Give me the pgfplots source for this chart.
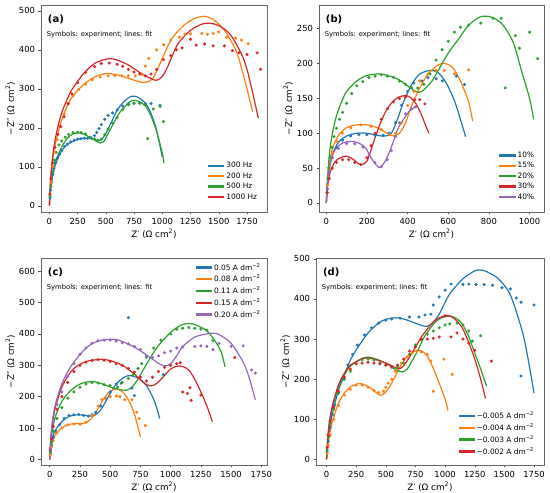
\documentclass[border=0pt]{standalone}
\usepackage{fontspec}
\setmainfont{DejaVu Sans}
\usepackage{pgfplots}
\pgfplotsset{compat=1.18}
\definecolor{c0}{HTML}{1F77B4}
\definecolor{c1}{HTML}{FF7F0E}
\definecolor{c2}{HTML}{2CA02C}
\definecolor{c3}{HTML}{D62728}
\definecolor{c4}{HTML}{9467BD}
\pgfplotsset{
  panel/.style={
    scale only axis, anchor=south west,
    axis line style={black!60, line width=0.6pt},
    tick align=outside, xtick pos=bottom, ytick pos=left,
    major tick length=2.5pt,
    tick style={black!70, line width=0.5pt},
    tick label style={font=\fontsize{8.4}{9}\selectfont},
    /pgf/number format/assume math mode=true,
    /pgf/number format/1000 sep={},
    label style={font=\fontsize{8.8}{10}\selectfont},
    xlabel={Z′ (Ω cm\textsuperscript{2})},
    ylabel={−Z″ (Ω cm\textsuperscript{2})},
    xlabel style={yshift=2pt},
    ylabel style={yshift=-3pt},
    legend cell align=left,
    legend style={draw=none, fill=none,
      font=\fontsize{7.4}{8}\selectfont, row sep=-0.6pt, inner sep=1pt},
    legend image code/.code={\fill[##1] (0pt,-0.55pt) rectangle (15pt,0.55pt);},
  },
  fitline/.style={line width=1.2pt, no marks, smooth, tension=0.5},
  expdot/.style={only marks, mark=*, mark size=1.35pt, forget plot},
}
\newcommand{\paneltext}[1]{%
  \node[anchor=north west, font=\bfseries\fontsize{10}{11}\selectfont, inner sep=0pt] at (rel axis cs:0.03,0.955) {(#1)};
  \node[anchor=north west, font=\fontsize{6.8}{7}\selectfont, inner sep=0pt] at (rel axis cs:0.025,0.875) {Symbols: experiment; lines: fit};
}
\begin{document}
\begin{tikzpicture}
\path[use as bounding box] (0,0) rectangle (550pt,493pt);
% ---------------- (a)
\begin{axis}[panel, at={(41pt,281pt)}, width=226pt, height=207pt,
  xmin=-74, xmax=1927, ymin=-16, ymax=515,
  xtick={0,250,...,1750}, ytick={0,100,...,500},
  legend style={at={(0.97,0.04)}, anchor=south east}]
\addplot[fitline, color=c0] coordinates {(0,0)(10,40)(25,70)(50,102)(75,122)(100,137)(150,155)(200,164)(250,170)(300,173)(350,173)(400,170)(430,167)(460,169)(500,185)(550,215)(600,245)(650,264)(700,277)(730,281)(780,279)(850,263)(900,237)(950,193)(1000,125)};
\addlegendentry{300 Hz}
\addplot[fitline, color=c1] coordinates {(0,0)(10,60)(25,108)(50,155)(100,212)(150,250)(200,278)(300,310)(400,330)(500,339)(600,336)(700,327)(800,318)(860,317)(910,325)(950,345)(1000,378)(1050,410)(1100,435)(1200,465)(1300,482)(1375,486)(1450,478)(1550,450)(1650,400)(1700,355)(1750,300)(1800,240)};
\addlegendentry{200 Hz}
\addplot[fitline, color=c2] coordinates {(0,0)(10,45)(25,78)(50,110)(100,145)(150,170)(200,183)(250,187)(300,184)(350,177)(400,168)(450,161)(480,164)(520,185)(575,215)(625,240)(700,264)(740,270)(790,268)(850,256)(900,230)(950,190)(1000,135)(1015,110)};
\addlegendentry{500 Hz}
\addplot[fitline, color=c3] coordinates {(0,0)(10,65)(25,115)(50,168)(100,230)(150,268)(200,298)(300,338)(400,365)(500,376)(550,377)(600,374)(700,361)(800,342)(900,326)(950,322)(1000,332)(1050,358)(1100,393)(1150,420)(1250,450)(1350,466)(1425,468)(1500,462)(1600,440)(1700,390)(1750,350)(1800,290)(1850,225)};
\addlegendentry{1000 Hz}
\addplot[expdot, color=c0] coordinates {(5,20)(10,40)(20,60)(30,80)(40,95)(55,110)(70,122)(90,132)(110,142)(135,152)(160,158)(190,164)(220,168)(250,171)(280,172)(310,173)(340,173)(370,174)(400,180)(420,188)(440,198)(460,208)(490,222)(520,232)(560,238)(600,246)(650,256)(700,261)(750,263)(800,263)(850,262)(900,262)(980,258)};
\addplot[expdot, color=c2] coordinates {(5,25)(15,50)(30,88)(45,117)(60,137)(85,156)(110,166)(140,176)(170,183)(210,188)(250,189)(280,188)(320,184)(360,176)(400,171)(430,168)(460,171)(490,182)(520,197)(560,212)(600,227)(650,247)(700,259)(750,263)(800,263)(850,258)(870,172)(920,248)(980,255)(1010,216)};
\addplot[expdot, color=c1] coordinates {(5,30)(15,60)(30,100)(50,138)(70,170)(100,205)(130,235)(170,262)(210,282)(260,298)(320,312)(380,323)(450,330)(520,333)(580,334)(640,334)(700,333)(760,333)(820,336)(850,358)(880,378)(950,400)(1010,413)(1075,425)(1150,432)(1200,440)(1250,441)(1350,442)(1400,440)(1450,442)(1500,446)(1570,432)(1650,430)(1700,425)(1760,416)};
\addplot[expdot, color=c3] coordinates {(5,30)(15,70)(30,110)(50,150)(75,183)(100,203)(130,228)(165,262)(200,287)(250,316)(320,342)(400,357)(460,365)(530,366)(600,363)(650,358)(700,350)(750,343)(800,338)(850,333)(900,338)(950,350)(1010,375)(1075,385)(1125,400)(1175,405)(1250,427)(1300,412)(1375,415)(1450,410)(1550,410)(1620,398)(1680,393)(1750,388)(1840,392)(1870,350)};
\paneltext{a}
\end{axis}
% ---------------- (b)
\begin{axis}[panel, at={(319pt,281pt)}, width=225pt, height=207pt,
  xmin=-36, xmax=1071, ymin=-13, ymax=284,
  xtick={0,200,...,1000}, ytick={0,50,...,250},
  legend style={at={(0.97,0.04)}, anchor=south east}]
\addplot[fitline, color=c0] coordinates {(0,0)(5,25)(15,50)(30,70)(60,87)(100,96)(150,100)(200,100)(250,97)(290,96)(320,100)(350,120)(380,145)(420,170)(460,185)(510,190)(550,187)(590,172)(630,147)(665,115)(685,95)};
\addlegendentry{10\%}
\addplot[fitline, color=c1] coordinates {(0,0)(5,28)(15,55)(30,78)(60,97)(100,108)(150,112)(200,112)(250,108)(300,100)(330,96)(360,100)(390,115)(420,140)(460,165)(500,185)(550,198)(580,200)(620,195)(660,175)(700,145)(720,117)};
\addlegendentry{15\%}
\addplot[fitline, color=c2] coordinates {(0,0)(5,30)(15,70)(30,100)(50,125)(75,145)(100,160)(150,175)(200,183)(260,185)(300,183)(350,178)(400,168)(440,160)(470,160)(520,175)(560,195)(600,215)(650,235)(700,255)(750,266)(780,268)(820,266)(870,255)(920,230)(960,190)(1000,150)(1020,120)};
\addlegendentry{20\%}
\addplot[fitline, color=c3] coordinates {(0,0)(5,20)(15,40)(40,58)(70,65)(100,67)(130,63)(160,56)(175,55)(200,60)(230,85)(260,110)(290,130)(320,143)(350,151)(385,154)(410,152)(440,143)(470,125)(490,110)(505,100)};
\addlegendentry{30\%}
\addplot[fitline, color=c4] coordinates {(0,0)(5,25)(15,50)(40,75)(80,86)(120,88)(150,87)(190,80)(220,65)(250,53)(265,51)(290,60)(320,80)(350,105)(380,120)(410,132)(440,138)};
\addlegendentry{40\%}
\addplot[expdot, color=c0] coordinates {(5,20)(15,45)(30,65)(50,80)(80,90)(120,96)(160,98)(200,98)(240,97)(280,97)(310,100)(340,115)(370,140)(400,160)(430,172)(470,175)(500,180)(540,178)(570,175)(640,182)(680,170)};
\addplot[expdot, color=c1] coordinates {(5,25)(15,50)(30,72)(50,88)(80,100)(120,108)(170,112)(220,110)(270,105)(310,98)(340,100)(370,115)(400,140)(430,160)(460,175)(500,185)(540,190)(580,190)(630,185)(700,191)};
\addplot[expdot, color=c2] coordinates {(3,15)(8,35)(12,50)(20,65)(28,80)(38,95)(50,107)(65,120)(80,130)(100,143)(125,157)(150,168)(180,174)(210,180)(240,182)(270,184)(300,182)(330,180)(360,175)(390,170)(420,165)(450,165)(480,170)(510,185)(540,205)(570,220)(600,232)(630,245)(660,252)(700,255)(760,258)(820,265)(860,265)(880,165)(930,240)(950,222)(1000,245)(1040,207)};
\addplot[expdot, color=c3] coordinates {(5,15)(15,35)(30,50)(50,58)(80,62)(110,62)(140,58)(170,55)(200,65)(220,82)(240,100)(270,120)(300,135)(330,145)(360,150)(390,152)(435,148)(460,148)(485,142)};
\addplot[expdot, color=c4] coordinates {(5,20)(15,45)(30,65)(60,78)(100,85)(140,85)(180,80)(210,70)(240,58)(270,52)(300,62)(320,75)(340,95)(360,115)(390,128)(420,135)(440,138)};
\paneltext{b}
\end{axis}
% ---------------- (c)
\begin{axis}[panel, at={(41pt,28pt)}, width=226pt, height=207pt,
  xmin=-72, xmax=1797, ymin=-18, ymax=642,
  xtick={0,250,...,1750}, ytick={0,100,...,600},
  legend style={at={(0.985,0.99)}, anchor=north east}]
\addplot[fitline, color=c0] coordinates {(0,0)(10,40)(25,70)(50,95)(100,120)(150,135)(200,141)(250,142)(300,140)(340,138)(380,142)(420,157)(460,182)(500,210)(550,240)(600,258)(650,267)(700,264)(750,255)(800,235)(850,200)(880,170)(910,130)};
\addlegendentry{0.05 A dm\textsuperscript{−2}}
\addplot[fitline, color=c1] coordinates {(0,0)(10,35)(25,60)(50,80)(100,100)(150,110)(200,114)(250,114)(300,117)(350,132)(400,162)(450,195)(500,217)(545,225)(600,216)(650,190)(700,145)(750,72)};
\addlegendentry{0.08 A dm\textsuperscript{−2}}
\addplot[fitline, color=c2] coordinates {(0,0)(10,55)(25,100)(50,140)(100,185)(150,210)(200,228)(250,240)(300,246)(350,248)(400,245)(450,238)(500,231)(550,225)(600,221)(640,221)(680,230)(720,250)(760,276)(800,303)(850,335)(900,363)(950,385)(1000,405)(1050,420)(1100,430)(1150,433)(1200,430)(1300,410)(1380,370)(1420,340)(1450,295)};
\addlegendentry{0.11 A dm\textsuperscript{−2}}
\addplot[fitline, color=c3] coordinates {(0,0)(10,70)(25,120)(50,170)(100,230)(150,265)(200,290)(300,312)(420,319)(450,318)(500,315)(600,300)(700,272)(760,250)(820,235)(870,238)(920,255)(960,272)(1000,288)(1050,297)(1100,296)(1150,285)(1200,255)(1250,215)(1300,170)(1345,120)};
\addlegendentry{0.15 A dm\textsuperscript{−2}}
\addplot[fitline, color=c4] coordinates {(0,0)(10,75)(25,130)(50,180)(100,240)(150,280)(200,310)(300,355)(400,377)(500,383)(550,382)(600,376)(700,358)(800,333)(900,306)(950,298)(1000,305)(1050,330)(1100,360)(1200,390)(1300,400)(1350,402)(1400,398)(1500,370)(1600,310)(1650,260)(1700,190)};
\addlegendentry{0.20 A dm\textsuperscript{−2}}
\addplot[expdot, color=c0] coordinates {(5,20)(15,45)(30,70)(50,90)(80,110)(120,130)(160,140)(200,142)(240,143)(280,140)(320,138)(350,142)(380,150)(420,170)(460,195)(500,215)(550,240)(590,243)(650,452)(680,227)(700,203)(940,270)};
\addplot[expdot, color=c1] coordinates {(5,15)(15,40)(30,60)(60,85)(100,100)(150,110)(200,112)(250,112)(300,118)(350,140)(400,170)(430,190)(460,195)(500,200)(550,202)(580,200)(620,190)(680,190)(720,150)(740,130)(790,108)};
\addplot[expdot, color=c2] coordinates {(5,25)(15,55)(30,90)(60,130)(100,165)(150,195)(200,215)(250,230)(300,240)(350,245)(400,243)(450,238)(500,235)(560,230)(600,245)(650,258)(690,270)(730,290)(760,305)(800,325)(860,355)(920,380)(1000,400)(1050,415)(1100,418)(1150,420)(1200,418)(1250,415)(1300,412)(1350,378)};
\addplot[expdot, color=c3] coordinates {(5,30)(15,65)(30,105)(60,160)(100,200)(150,245)(200,280)(250,300)(300,310)(350,315)(400,318)(450,316)(500,312)(550,305)(600,300)(650,290)(700,278)(750,262)(800,250)(850,262)(900,280)(950,293)(1000,300)(1050,305)(1080,308)(1100,215)(1140,210)(1160,228)(1170,188)(1250,205)(1530,325)};
\addplot[expdot, color=c4] coordinates {(5,35)(15,75)(30,120)(60,175)(100,215)(150,265)(200,305)(250,335)(300,355)(350,370)(400,378)(450,380)(500,380)(550,377)(600,372)(650,368)(700,360)(750,350)(800,330)(850,325)(900,330)(950,340)(1000,345)(1050,355)(1100,358)(1200,360)(1250,362)(1300,360)(1350,350)(1400,370)(1500,360)(1600,362)(1670,285)(1700,275)};
\paneltext{c}
\end{axis}
% ---------------- (d)
\begin{axis}[panel, at={(316pt,28pt)}, width=228pt, height=207pt,
  xmin=-89, xmax=1834, ymin=-14, ymax=502,
  xtick={0,250,...,1750}, ytick={0,100,...,500},
  legend style={at={(0.97,0.03)}, anchor=south east}]
\addplot[fitline, color=c0] coordinates {(0,0)(10,40)(25,75)(50,115)(100,172)(150,210)(200,247)(250,273)(300,295)(350,315)(400,330)(450,342)(500,349)(580,353)(650,350)(700,345)(800,334)(850,332)(900,342)(950,362)(1000,392)(1050,417)(1150,450)(1250,470)(1300,472)(1350,468)(1450,450)(1550,410)(1650,320)(1700,250)(1750,165)};
\addlegendentry{−0.005 A dm\textsuperscript{−2}}
\addplot[fitline, color=c1] coordinates {(0,0)(10,30)(25,60)(50,95)(100,140)(150,165)(200,180)(270,189)(320,186)(380,176)(420,166)(455,160)(490,165)(550,190)(600,220)(650,245)(700,262)(760,271)(800,271)(850,257)(900,227)(950,190)(1000,150)(1025,122)};
\addlegendentry{−0.004 A dm\textsuperscript{−2}}
\addplot[fitline, color=c2] coordinates {(0,0)(10,50)(25,90)(50,130)(100,180)(150,210)(200,232)(300,252)(340,255)(400,252)(500,240)(560,228)(635,218)(680,225)(720,245)(770,272)(820,303)(870,325)(920,343)(970,353)(1030,357)(1070,355)(1110,348)(1150,335)(1200,305)(1250,265)(1300,225)(1350,182)};
\addlegendentry{−0.003 A dm\textsuperscript{−2}}
\addplot[fitline, color=c3] coordinates {(0,0)(10,55)(25,95)(50,135)(100,185)(150,215)(200,235)(300,251)(340,253)(400,250)(500,240)(560,232)(610,226)(650,233)(700,255)(750,280)(800,305)(850,325)(900,342)(950,353)(1010,359)(1050,356)(1100,345)(1150,325)(1200,290)(1250,250)(1300,200)(1340,152)};
\addlegendentry{−0.002 A dm\textsuperscript{−2}}
\addplot[expdot, color=c0] coordinates {(5,20)(15,45)(30,80)(50,112)(70,135)(100,165)(140,200)(180,235)(220,262)(260,285)(320,310)(380,328)(440,340)(500,347)(550,350)(620,352)(700,355)(780,355)(830,360)(880,362)(900,385)(950,405)(1000,422)(1050,437)(1150,436)(1200,437)(1260,436)(1330,436)(1400,434)(1480,428)(1550,425)(1600,402)(1640,392)(1640,208)(1750,385)};
\addplot[expdot, color=c1] coordinates {(5,15)(15,35)(30,60)(60,100)(100,135)(150,160)(200,175)(250,185)(300,185)(350,180)(400,172)(440,167)(480,170)(500,180)(520,190)(550,200)(580,220)(630,240)(680,255)(720,265)(760,270)(800,268)(850,262)(880,245)(900,170)(990,250)(1060,212)};
\addplot[expdot, color=c2] coordinates {(5,25)(15,55)(30,90)(60,125)(100,165)(150,200)(200,220)(250,240)(300,248)(350,250)(400,248)(450,240)(500,235)(550,230)(600,230)(650,240)(700,262)(750,285)(800,298)(850,312)(900,320)(950,328)(1000,335)(1040,338)(1100,340)(1150,335)(1200,320)(1230,295)(1300,308)};
\addplot[expdot, color=c3] coordinates {(5,30)(15,60)(30,95)(60,130)(100,170)(150,205)(200,225)(250,238)(300,240)(350,242)(400,240)(450,238)(500,235)(550,230)(600,235)(650,250)(700,270)(750,280)(800,300)(850,300)(900,302)(950,305)(1000,358)(1050,305)(1100,315)(1150,300)(1200,290)(1250,272)(1390,245)};
\paneltext{d}
\end{axis}
\end{tikzpicture}
\end{document}
